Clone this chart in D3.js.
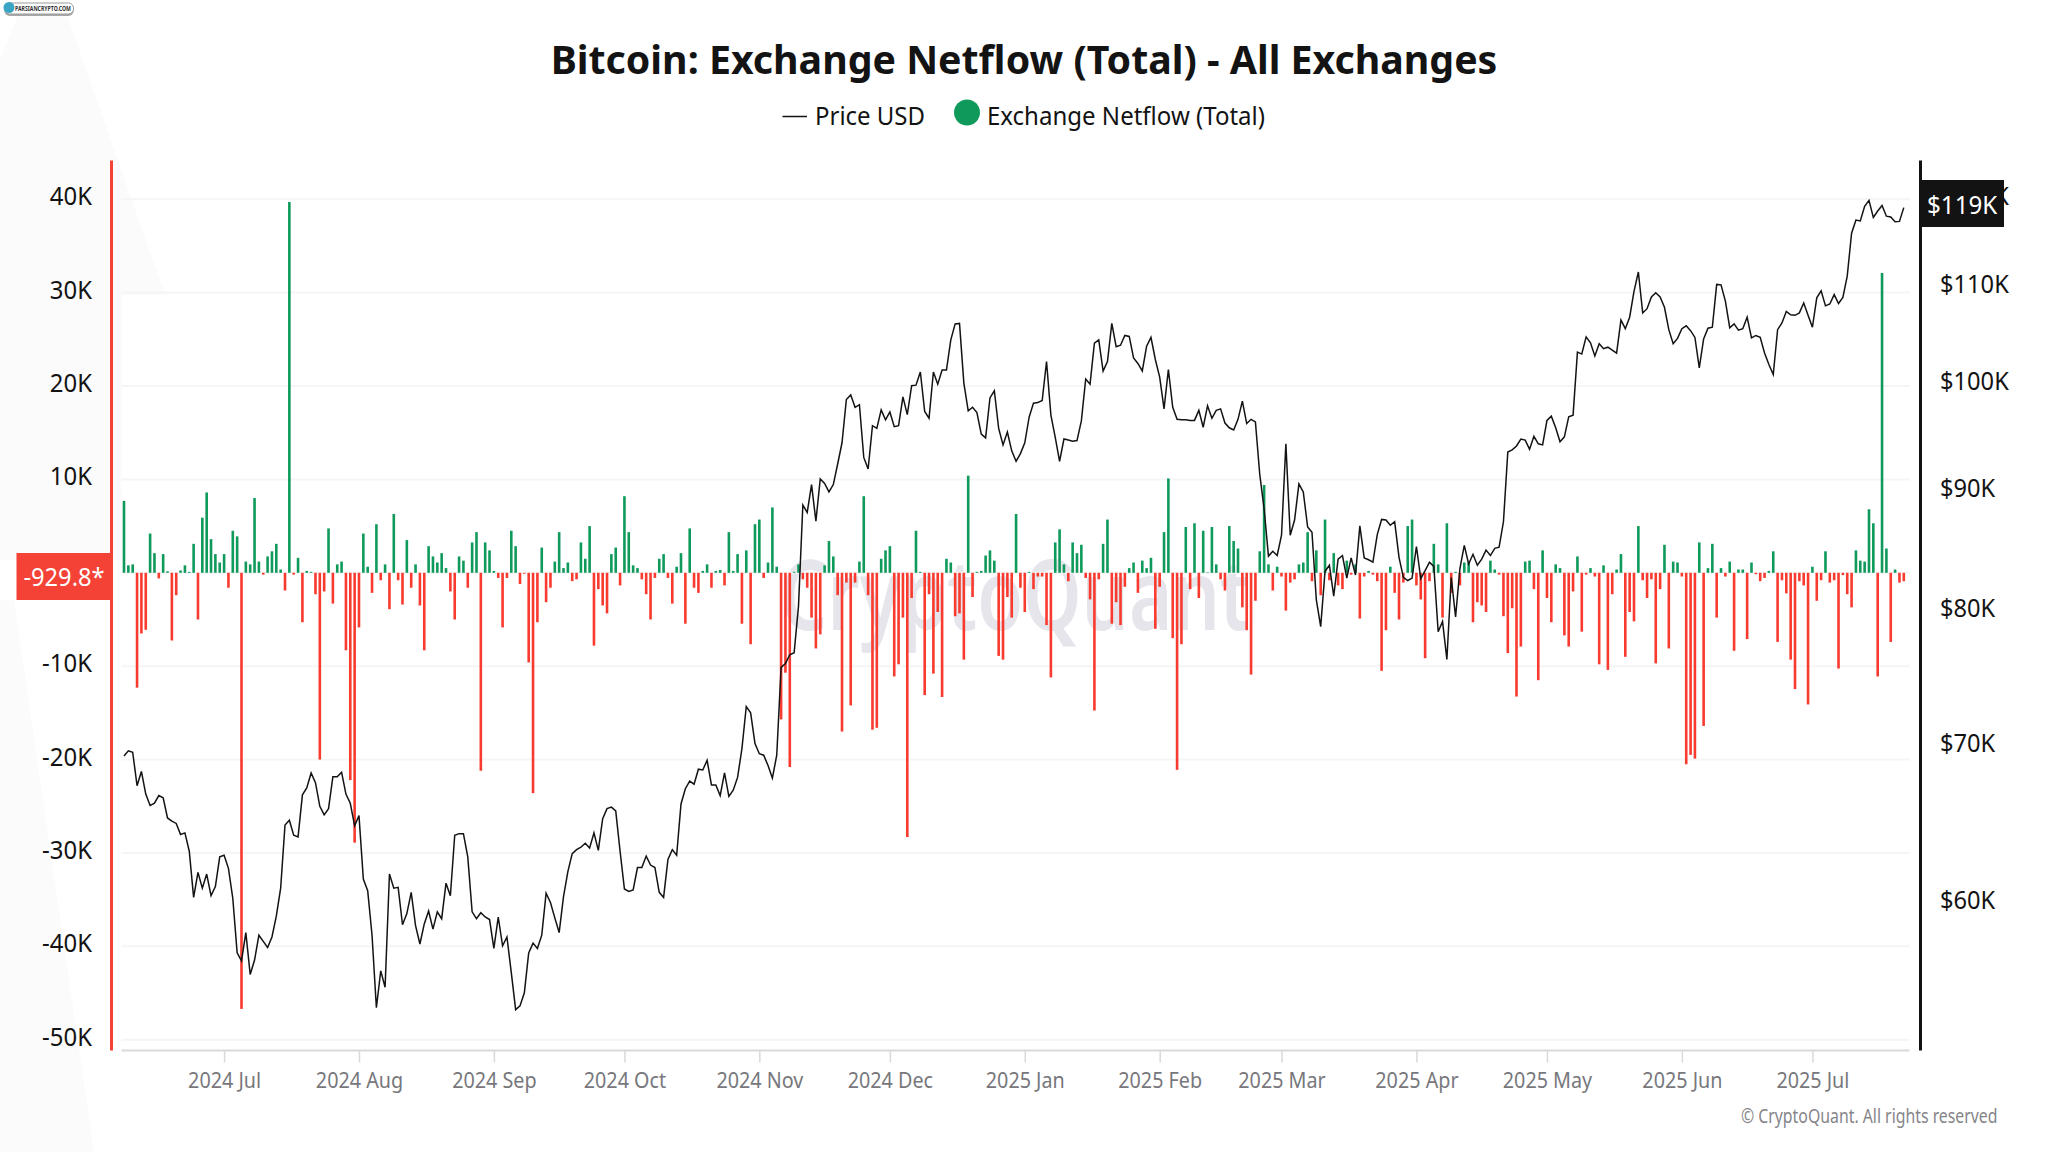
<!DOCTYPE html>
<html>
<head>
<meta charset="utf-8">
<script src="https://cdn.jsdelivr.net/npm/d3@7"></script>
<style>
  html, body { margin: 0; padding: 0; background: #fff; }
  svg { display: block; }
  text { font-family: "Noto Sans", sans-serif; }
</style>
</head>
<body>
<svg id="chart"></svg>
<script>
// first day of the daily series
const startDate = new Date(2024, 5, 8);

// exchange netflow, thousands of BTC per day
const netflow = [
  7.7,0.8,0.9,-12.3,-6.5,-6.1,4.2,2.1,-0.6,2.0,
  0.15,-7.25,-2.4,0.25,0.8,0.1,3.1,-5.0,5.9,8.6,
  3.6,2.0,1.1,2.0,-1.6,4.5,3.9,-46.7,1.2,0.9,
  8.0,1.2,-0.2,1.75,2.3,3.1,0.35,-1.9,39.7,-0.2,
  1.6,-5.3,0.2,0.1,-2.3,-20.0,-2.0,4.75,-3.3,0.9,
  1.2,-8.3,-22.2,-28.9,-5.85,4.2,0.65,-2.15,5.2,-0.8,
  0.9,-3.9,6.3,-0.8,-3.4,3.5,-1.6,0.9,-3.5,-8.3,
  2.85,1.75,1.1,2.1,0.5,-2.0,-5.0,1.75,1.3,-1.6,
  3.25,4.35,-21.2,3.25,2.4,0.2,-0.55,-5.85,-0.55,4.5,
  2.85,-1.2,-0.1,-9.6,-23.6,-5.3,2.7,-3.15,-1.6,1.2,
  4.35,0.5,1.1,-0.9,-0.7,3.25,1.5,5.0,-7.8,-1.75,
  -3.5,-4.35,2.0,2.7,-1.35,8.2,4.35,0.8,0.5,-0.7,
  -2.3,-5.0,-0.55,1.5,2.0,-0.55,-3.3,0.65,2.1,-5.45,
  4.75,-1.6,-2.15,0.2,0.9,-1.6,0.2,0.3,-1.35,4.35,
  0.2,2.0,-5.45,2.4,-7.65,5.2,5.7,-0.55,1.1,7.0,
  0.65,-15.7,-10.7,-20.8,0.1,0.9,-0.7,-1.6,-4.8,-8.1,
  -6.6,0.8,3.4,1.75,-2.4,-17.0,-1.05,-14.2,-1.05,1.2,
  8.2,-2.4,-16.8,-16.6,1.5,2.4,2.85,-11.1,-9.8,-4.8,
  -28.3,-2.7,4.5,0.1,-13.1,-2.3,-10.8,-4.2,-13.3,1.5,
  1.1,-4.65,-4.35,-9.3,10.4,-2.6,0.1,0.2,1.85,2.4,
  1.3,-8.9,-9.3,-2.6,-4.8,6.3,-1.6,-4.2,0.1,-1.75,
  -0.4,-0.4,-5.6,-11.2,3.25,4.65,0.9,-0.9,3.25,2.1,
  3.0,-0.55,-2.85,-14.75,-0.7,3.1,5.7,-5.45,-3.15,-5.6,
  -1.5,0.5,1.1,-2.15,1.3,0.5,1.6,-6.0,-1.5,4.35,
  10.1,-7.0,-21.1,-7.65,4.9,-1.75,5.3,-2.7,4.5,0.05,
  4.9,0.9,-0.7,-1.9,5.0,3.4,2.6,-3.7,-6.15,-10.9,
  -3.0,2.3,9.4,0.9,-1.9,0.65,-0.4,-4.05,-1.05,-0.7,
  0.9,1.1,4.35,-0.9,2.4,-2.4,5.7,-0.8,2.1,-1.35,
  -1.75,1.3,-0.2,0.9,-4.9,-0.4,0.2,-0.2,-0.9,-10.5,
  -6.15,0.65,-2.15,-5.0,-1.05,5.0,5.7,-1.35,-2.85,-9.15,
  -0.9,3.1,0.9,-4.8,5.3,-2.15,0.1,-1.35,1.1,1.1,
  -5.3,-3.15,-3.5,-4.2,1.3,0.35,-0.2,-4.65,-8.6,-3.8,
  -13.25,-7.9,1.2,1.3,-1.75,-11.5,2.4,-2.7,-5.3,0.9,
  0.5,-6.7,-7.9,-2.0,1.75,-6.3,-0.2,0.5,-0.4,-9.8,
  0.8,-10.4,-2.3,0.35,2.0,-9.0,-4.2,-5.2,5.0,-0.8,
  -2.7,-0.7,-9.7,-1.75,3.0,-8.1,1.2,1.1,-0.4,-20.5,
  -19.5,-19.9,3.25,-16.4,0.5,3.1,-4.8,0.5,-0.4,1.2,
  -8.35,0.35,0.35,-7.1,1.1,-0.15,-0.9,-0.55,0.2,2.3,
  -7.4,-0.8,-2.2,-9.3,-12.45,-0.9,-1.35,-14.1,0.65,-3.0,
  -0.8,2.3,-1.05,-0.8,-10.25,-0.25,-2.3,-3.7,2.4,1.3,
  1.2,6.8,5.3,-11.1,32.1,2.6,-7.4,0.35,-1.05,-0.9
];

// BTC price, thousands of USD per day
const price = [
  69.2,69.55,69.45,67.2,68.15,66.65,65.9,66.05,66.55,66.4,
  65.1,64.9,64.75,64.05,64.15,63.0,60.2,61.7,60.75,61.6,
  60.3,60.85,62.65,62.75,61.95,60.15,57.0,56.55,58.15,55.8,
  56.6,58.0,57.65,57.3,57.9,59.1,60.75,64.65,64.95,64.0,
  63.9,66.6,67.05,68.05,67.4,65.85,65.3,65.7,67.8,67.8,
  68.1,66.65,66.05,64.6,65.25,61.3,60.6,58.0,54.0,56.0,
  55.1,61.6,60.75,60.8,58.6,59.25,60.5,58.55,57.5,58.65,
  59.4,58.35,59.35,58.95,61.05,60.3,64.0,64.1,64.1,62.65,
  59.35,58.95,59.3,59.05,58.9,57.25,59.05,57.4,57.9,55.9,
  53.9,54.1,54.8,57.0,57.55,57.25,58.0,60.45,59.9,59.0,
  58.15,60.25,61.75,62.85,63.1,63.25,63.5,63.2,64.15,63.05,
  65.05,65.7,65.8,65.55,63.0,60.7,60.55,60.65,62.0,62.0,
  62.7,62.15,62.0,60.5,60.2,62.5,63.1,62.75,66.0,67.0,
  67.5,67.3,68.3,68.25,68.9,67.25,67.25,66.55,68.05,66.5,
  66.9,67.75,69.7,72.65,72.2,70.05,69.35,69.25,68.55,67.7,
  69.25,75.5,75.8,76.45,76.6,80.2,88.6,87.95,90.4,87.2,
  90.9,90.5,89.75,90.4,92.25,94.2,98.3,98.75,97.55,97.8,
  92.85,91.8,95.8,95.55,97.3,96.35,97.1,95.7,95.8,98.55,
  96.85,99.65,99.7,101.0,97.15,96.5,101.0,99.8,101.2,101.2,
  104.25,105.9,105.95,99.9,97.2,97.55,97.05,95.0,94.65,98.45,
  99.15,95.55,94.0,95.2,93.45,92.5,93.2,94.2,96.6,97.95,
  98.0,98.2,102.05,96.8,94.7,92.5,94.55,94.45,94.35,94.4,
  96.25,100.3,99.8,103.9,104.25,101.1,102.05,105.95,103.55,103.7,
  104.7,104.6,102.4,101.85,101.1,103.6,104.5,102.25,100.5,97.4,
  101.25,97.55,96.4,96.35,96.35,96.3,96.3,97.25,95.65,97.7,
  96.5,97.25,97.4,96.05,95.6,95.4,96.4,98.15,96.0,96.4,
  96.15,91.3,88.25,84.25,84.65,84.3,86.0,94.1,86.0,87.3,
  90.45,89.75,86.7,86.25,80.7,78.6,83.0,83.5,81.0,84.0,
  84.3,82.45,84.1,82.7,86.8,84.1,83.95,83.75,86.05,87.35,
  87.3,86.85,87.15,84.15,82.5,82.25,82.45,85.05,82.4,83.05,
  83.75,83.4,78.2,79.0,76.1,82.5,79.35,83.25,85.15,83.6,
  84.4,83.5,84.0,84.75,84.3,84.9,85.0,87.15,93.35,93.55,
  93.9,94.55,94.45,93.6,94.8,94.1,94.0,96.3,96.7,95.6,
  94.3,94.75,96.65,96.8,103.0,102.8,104.55,103.95,102.6,103.85,
  103.35,103.5,103.2,102.9,106.3,105.4,106.6,109.35,111.45,107.05,
  107.5,108.75,109.2,108.75,107.65,105.3,103.85,104.4,105.4,105.7,
  105.2,104.5,101.4,104.35,105.45,105.55,110.1,110.05,108.3,105.5,
  105.9,105.25,105.4,106.6,104.45,104.7,104.5,102.9,101.75,100.75,
  105.3,106.0,107.2,106.85,106.8,107.05,108.1,106.8,105.55,108.65,
  109.4,107.8,108.0,109.0,108.05,108.7,111.0,115.8,117.3,117.2,
  118.9,119.6,117.6,118.35,119.0,117.75,117.65,117.1,117.15,118.75
];

// axis ticks
const netflowTicks = [40, 30, 20, 10, 0, -10, -20, -30, -40, -50];
const priceTicks = [120, 110, 100, 90, 80, 70, 60];
const monthTicks = [
  new Date(2024, 6, 1), new Date(2024, 7, 1), new Date(2024, 8, 1), new Date(2024, 9, 1),
  new Date(2024, 10, 1), new Date(2024, 11, 1), new Date(2025, 0, 1), new Date(2025, 1, 1),
  new Date(2025, 2, 1), new Date(2025, 3, 1), new Date(2025, 4, 1), new Date(2025, 5, 1),
  new Date(2025, 6, 1)
];

const green = '#0f9a5c',
    red = '#f93a2f',
    badgeRed = '#f44336',
    ink = '#131313';

const width = 2048, height = 1152;
const svg = d3.select('#chart').attr('width', width).attr('height', height);

// the original font runs narrower than Noto Sans, so squeeze the glyphs a bit
function squeeze(sel, k) {
    sel.each(function() {
        const w = this.getComputedTextLength();
        if (w > 0) d3.select(this).attr('textLength', w * k).attr('lengthAdjust', 'spacingAndGlyphs');
    });
}

const dates = d3.range(netflow.length).map(i => d3.timeDay.offset(startDate, i));

const x = d3.scaleTime().domain([startDate, dates[dates.length - 1]]).range([124, 1903.8]);
const y = d3.scaleLinear().domain([-51.1, 44.2]).range([1050, 160]);
const yPrice = d3.scaleLog().domain([51.8, 124.45]).range([1050, 160]);

// faint background shapes on the left edge
svg.append('path').attr('fill', '#fbfbfb')
    .attr('d', 'M0 60L18 15H67L165 295H122V560H0Z');
svg.append('path').attr('fill', '#fbfbfb')
    .attr('d', 'M0 600H14L94 1152H0Z');

// watermark sits under everything
svg.append('text')
    .attr('x', 780).attr('y', 630)
    .attr('font-size', 98).attr('font-weight', 600)
    .attr('textLength', 470).attr('lengthAdjust', 'spacingAndGlyphs')
    .attr('fill', '#e5e5eb')
    .text('CryptoQuant');

// grid lines
svg.append('g').selectAll('line').data(netflowTicks).join('line')
    .attr('x1', 121.5).attr('x2', 1909.5)
    .attr('y1', d => y(d)).attr('y2', d => y(d))
    .attr('stroke', '#f5f5f5').attr('stroke-width', 2);

// bars, one per day
svg.append('g').selectAll('rect').data(netflow).join('rect')
    .attr('x', (d, i) => x(dates[i]) - 1.3)
    .attr('width', 2.6)
    .attr('y', d => Math.min(y(d), y(0)))
    .attr('height', d => Math.abs(y(d) - y(0)))
    .attr('fill', d => d >= 0 ? green : red);

// price line
const line = d3.line().x((d, i) => x(dates[i])).y(d => yPrice(d));
svg.append('path').datum(price)
    .attr('d', line)
    .attr('fill', 'none')
    .attr('stroke', ink)
    .attr('stroke-width', 1.5);

// left axis
const leftAxis = svg.append('g').attr('transform', 'translate(111,0)')
    .call(d3.axisLeft(y).tickValues(netflowTicks).tickSize(0).tickPadding(19)
        .tickFormat(d => d === 0 ? '' : d + 'K'));
leftAxis.select('.domain').attr('stroke', badgeRed).attr('stroke-width', 3);
leftAxis.selectAll('text').attr('font-size', 26).attr('fill', ink).attr('dy', '0.21em')
    .style('font-family', '"Noto Sans", sans-serif').call(squeeze, 0.92);

// right axis
const rightAxis = svg.append('g').attr('transform', 'translate(1920,0)')
    .call(d3.axisRight(yPrice).tickValues(priceTicks).tickSize(0).tickPadding(20)
        .tickFormat(d => '$' + d + 'K'));
rightAxis.select('.domain').attr('stroke', ink).attr('stroke-width', 3);
rightAxis.selectAll('text').attr('font-size', 26).attr('fill', ink).attr('dy', '0.29em')
    .style('font-family', '"Noto Sans", sans-serif').call(squeeze, 0.91);

// bottom axis
const bottomAxis = svg.append('g').attr('transform', 'translate(0,1050.5)')
    .call(d3.axisBottom(x).tickValues(monthTicks).tickSize(12).tickPadding(11)
        .tickFormat(d3.timeFormat('%Y %b')));
bottomAxis.select('.domain').attr('d', 'M121.5,0H1909.5').attr('stroke', '#d9d9d9').attr('stroke-width', 2);
bottomAxis.selectAll('line').attr('stroke', '#d9d9d9').attr('stroke-width', 1.5);
bottomAxis.selectAll('text').attr('font-size', 21).attr('fill', '#77777c')
    .style('font-family', '"Noto Sans", sans-serif').call(squeeze, 0.94);

// current value badges
const lastFlow = svg.append('g');
lastFlow.append('rect').attr('x', 16.5).attr('y', 553).attr('width', 95).attr('height', 47).attr('fill', badgeRed);
lastFlow.append('text').attr('x', 64).attr('y', 586).attr('text-anchor', 'middle')
    .attr('font-size', 26).attr('fill', '#fff').text('-929.8*').call(squeeze, 0.91);

const lastPrice = svg.append('g');
lastPrice.append('rect').attr('x', 1921).attr('y', 180).attr('width', 83).attr('height', 47).attr('fill', ink);
lastPrice.append('text').attr('x', 1927).attr('y', 214)
    .attr('font-size', 26).attr('fill', '#fff').text('$119K').call(squeeze, 0.93);

// title
svg.append('text')
    .attr('x', 1024).attr('y', 74).attr('text-anchor', 'middle')
    .attr('font-size', 40).attr('font-weight', 700).attr('fill', ink)
    .text('Bitcoin: Exchange Netflow (Total) - All Exchanges')
    .call(squeeze, 0.982);

// legend
svg.append('line').attr('x1', 782.5).attr('x2', 807).attr('y1', 116.5).attr('y2', 116.5)
    .attr('stroke', ink).attr('stroke-width', 1.5);
svg.append('text').attr('x', 815).attr('y', 125).attr('font-size', 26).attr('fill', ink)
    .attr('textLength', 110).attr('lengthAdjust', 'spacingAndGlyphs').text('Price USD');
svg.append('circle').attr('cx', 967).attr('cy', 112.5).attr('r', 13).attr('fill', green);
svg.append('text').attr('x', 987).attr('y', 125).attr('font-size', 26).attr('fill', ink)
    .attr('textLength', 278).attr('lengthAdjust', 'spacingAndGlyphs').text('Exchange Netflow (Total)');

// credit
svg.append('text')
    .attr('x', 1741).attr('y', 1123)
    .attr('font-size', 19).attr('fill', '#85858a')
    .attr('textLength', 256.5).attr('lengthAdjust', 'spacingAndGlyphs')
    .text('© CryptoQuant. All rights reserved');

// little logo pill in the corner
const logo = svg.append('g');
logo.append('rect').attr('x', 4.5).attr('y', 4.5).attr('width', 69).attr('height', 11.5).attr('rx', 5)
    .attr('fill', '#a8a8a8');
logo.append('rect').attr('x', 4.5).attr('y', 3).attr('width', 69).attr('height', 11).attr('rx', 5)
    .attr('fill', '#fff').attr('stroke', '#9a9a9a').attr('stroke-width', 1);
logo.append('circle').attr('cx', 9).attr('cy', 7.5).attr('r', 5.5).attr('fill', '#3aa6c4');
logo.append('text').attr('x', 15).attr('y', 11).attr('font-size', 6.6).attr('font-weight', 700)
    .attr('fill', '#333').attr('textLength', 56).attr('lengthAdjust', 'spacingAndGlyphs')
    .text('PARSIANCRYPTO.COM');
</script>
</body>
</html>
